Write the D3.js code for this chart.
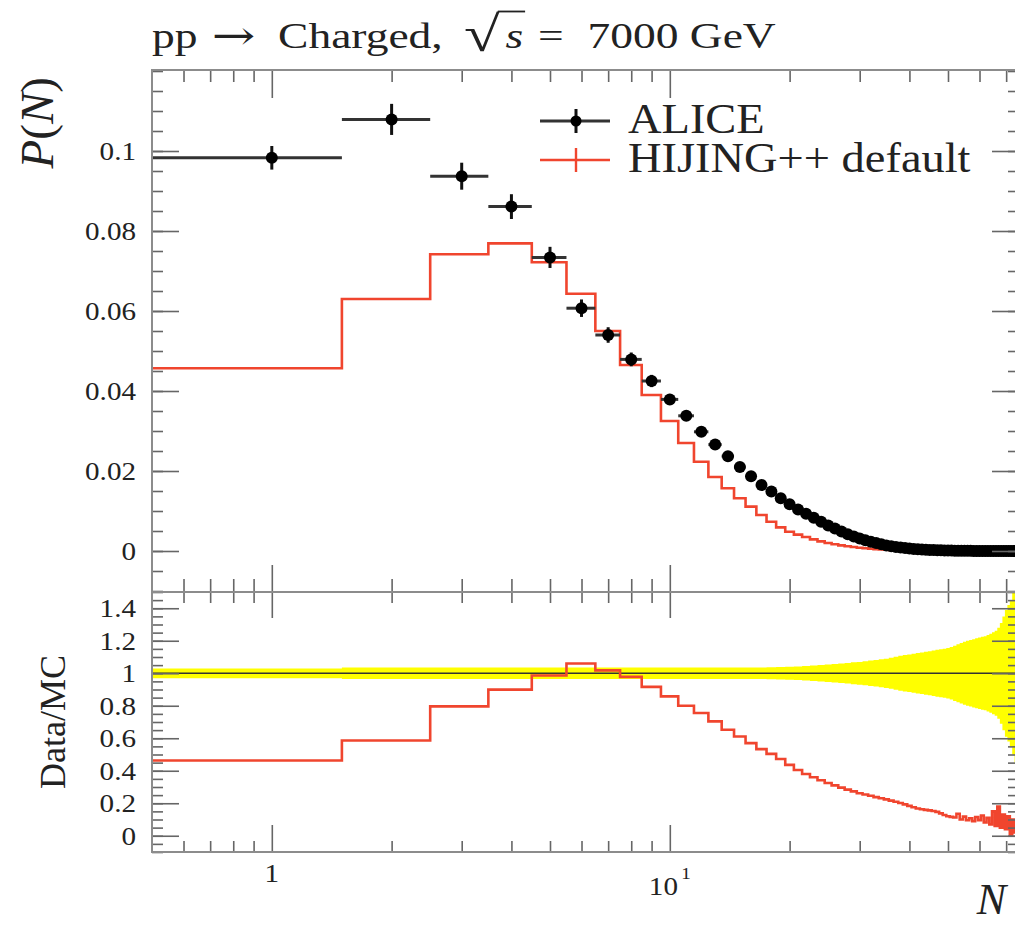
<!DOCTYPE html>
<html>
<head>
<meta charset="utf-8">
<script src="https://cdn.jsdelivr.net/npm/d3@7"></script>
<style>
  html, body { margin: 0; padding: 0; background: #fff; overflow: hidden; }
  svg { display: block; font-family: "Liberation Serif", "DejaVu Serif", serif; }
  svg text { font-family: "Liberation Serif", "DejaVu Serif", serif; }
</style>
</head>
<body>
<svg id="chart" width="1015" height="925"></svg>
<script>
// multiplicity bins (centred on integer N, width 1)
const nch = [1, 2, 3, 4, 5, 6, 7, 8, 9, 10, 11, 12, 13, 14, 15, 16, 17, 18, 19, 20,
  21, 22, 23, 24, 25, 26, 27, 28, 29, 30, 31, 32, 33, 34, 35, 36, 37, 38, 39, 40,
  41, 42, 43, 44, 45, 46, 47, 48, 49, 50, 51, 52, 53, 54, 55, 56, 57, 58, 59, 60,
  61, 62, 63, 64, 65, 66, 67, 68, 69, 70, 71, 72, 73, 74];

// ALICE data P(N)
const alice = [0.0983, 0.1079, 0.0937, 0.0861, 0.0734, 0.0607, 0.0540, 0.0479, 0.0425, 0.0379,
  0.0338, 0.0298, 0.0266, 0.0237, 0.0210, 0.0187, 0.0165, 0.0149, 0.0132, 0.0117,
  0.0104, 0.0093, 0.0083, 0.0073, 0.0064, 0.0056, 0.0049, 0.0042, 0.0036, 0.0031,
  0.0027, 0.0023, 0.0020, 0.0017, 0.0014, 0.0012, 0.0010, 0.00085, 0.00072, 0.00061,
  0.00052, 0.00044, 0.00037, 0.00031, 0.00026, 0.00022, 0.00019, 0.00016, 0.00013, 0.00011,
  0.000095, 0.00008, 0.000068, 0.000057, 0.000048, 0.00004, 0.000034, 0.000028, 0.000024, 0.00002,
  0.000017, 0.000014, 0.000012, 0.00001, 0.0000085, 0.000007, 0.000006, 0.000005, 0.0000042, 0.0000035,
  0.000003, 0.0000025, 0.000002, 0.0000017];

// relative uncertainty of the data (yellow band, error bars)
const aliceRelErr = [0.030, 0.036, 0.036, 0.036, 0.036, 0.036, 0.036, 0.036, 0.036, 0.036,
  0.036, 0.036, 0.036, 0.036, 0.036, 0.036, 0.036, 0.037, 0.038, 0.040,
  0.042, 0.045, 0.048, 0.051, 0.054, 0.057, 0.060, 0.063, 0.067, 0.070,
  0.074, 0.078, 0.082, 0.086, 0.090, 0.096, 0.102, 0.108, 0.112, 0.116,
  0.120, 0.124, 0.128, 0.132, 0.136, 0.140, 0.144, 0.148, 0.151, 0.155,
  0.162, 0.170, 0.178, 0.186, 0.194, 0.200, 0.205, 0.210, 0.215, 0.220,
  0.224, 0.228, 0.235, 0.243, 0.252, 0.262, 0.280, 0.310, 0.350, 0.390,
  0.420, 0.450, 0.500, 0.550];

// HIJING++ default P(N)
const hijing = [0.0457, 0.0630, 0.0742, 0.0769, 0.0722, 0.0643, 0.0550, 0.0465, 0.0390, 0.0325,
  0.0270, 0.0223, 0.0185, 0.0157, 0.0132, 0.0111, 0.0090, 0.0073, 0.0059, 0.0048,
  0.0041, 0.0035, 0.0029, 0.0024, 0.0020, 0.0017, 0.0014, 0.0012, 0.0010, 0.00082,
  0.00068, 0.00057, 0.00047, 0.00039, 0.00032, 0.00026, 0.00021, 0.00017, 0.00014, 0.00011,
  0.00009, 0.000074, 0.00006, 0.00005, 0.00004, 0.000033, 0.000028, 0.000022, 0.000017, 0.000013,
  0.000011, 0.000009, 0.0000092, 0.0000057, 0.0000057, 0.0000038, 0.0000037, 0.0000025, 0.0000028, 0.0000019,
  0.0000021, 0.0000011, 0.0000013, 0.0000007, 0.0000013, 0.0000004, 0.0000011, 0.0000003, 0.0000005, 0.0000001,
  0.0000004, 0, 0.0000002, 0.00000003];

// ratio panel (MC / data)
const ratio = [0.463, 0.586, 0.796, 0.899, 0.986, 1.060, 1.018, 0.978, 0.916, 0.858,
  0.800, 0.755, 0.704, 0.652, 0.611, 0.570, 0.533, 0.504, 0.472, 0.436,
  0.405, 0.380, 0.360, 0.342, 0.325, 0.310, 0.296, 0.284, 0.273, 0.262,
  0.254, 0.246, 0.238, 0.231, 0.224, 0.216, 0.209, 0.202, 0.193, 0.184,
  0.175, 0.168, 0.163, 0.159, 0.156, 0.152, 0.147, 0.138, 0.128, 0.120,
  0.116, 0.112, 0.135, 0.100, 0.118, 0.095, 0.108, 0.090, 0.115, 0.096,
  0.125, 0.082, 0.110, 0.070, 0.150, 0.060, 0.180, 0.050, 0.130, 0.040,
  0.120, 0.000, 0.100, 0.020];

// axis ticks
const xMajorTicks = [1, 10];
const xMinorTicks = [0.6, 0.7, 0.8, 0.9, 2, 3, 4, 5, 6, 7, 8, 9, 20, 30, 40, 50, 60, 70];
const xLabelBase = ["1", "10"];
const xLabelExp = ["", "1"];
const yTicksTop = [0, 0.02, 0.04, 0.06, 0.08, 0.1];
const yTickLabelsTop = ["0", "0.02", "0.04", "0.06", "0.08", "0.1"];
const yTicksRatio = [0, 0.2, 0.4, 0.6, 0.8, 1, 1.2, 1.4];
const yTickLabelsRatio = ["0", "0.2", "0.4", "0.6", "0.8", "1", "1.2", "1.4"];

const red = "#f0452e";
const frameCol = "#8c8c8c";
const tickCol = "#666";
const serif = '"Liberation Serif", "DejaVu Serif", serif';

const pLeft = 152, pRight = 1019, pTop = 70, pMid = 592, pBottom = 852;

const svg = d3.select("#chart");

const x = d3.scaleLog().domain([0.5, 75.4]).range([pLeft, pRight]);
const y = d3.scaleLinear().domain([-0.01025, 0.12025]).range([pMid, pTop]);
const yr = d3.scaleLinear().domain([-0.1, 1.5]).range([pBottom, pMid]);

const defs = svg.append("defs");
defs.append("clipPath").attr("id", "clipTop")
  .append("rect").attr("x", pLeft).attr("y", pTop).attr("width", pRight - pLeft).attr("height", pMid - pTop);
defs.append("clipPath").attr("id", "clipRatio")
  .append("rect").attr("x", pLeft).attr("y", pMid).attr("width", pRight - pLeft).attr("height", pBottom - pMid);

// bins -> step points
const steps = vals => nch.flatMap((n, i) => [[n - 0.5, vals[i]], [n + 0.5, vals[i]]]);

// ---------- ratio panel ----------
const gR = svg.append("g").attr("clip-path", "url(#clipRatio)");

gR.append("path")
  .datum(steps(aliceRelErr))
  .attr("fill", "#ffff00")
  .attr("d", d3.area().x(d => x(d[0])).y0(d => yr(1 - d[1])).y1(d => yr(1 + d[1])));

gR.append("line")
  .attr("x1", pLeft).attr("x2", pRight).attr("y1", yr(1)).attr("y2", yr(1))
  .attr("stroke", "#333").attr("stroke-width", 1.5);

gR.append("path")
  .datum(steps(ratio))
  .attr("fill", "none").attr("stroke", red).attr("stroke-width", 2.6)
  .attr("d", d3.line().x(d => x(d[0])).y(d => yr(d[1])));

// ---------- main panel ----------
const gT = svg.append("g").attr("clip-path", "url(#clipTop)");

gT.append("path")
  .datum(steps(hijing))
  .attr("fill", "none").attr("stroke", red).attr("stroke-width", 2.6)
  .attr("d", d3.line().x(d => x(d[0])).y(d => y(d[1])));

const pts = gT.selectAll(".pt").data(nch).join("g").attr("class", "pt");
pts.append("line")
  .attr("x1", n => x(n - 0.5)).attr("x2", n => x(n + 0.5))
  .attr("y1", (n, i) => y(alice[i])).attr("y2", (n, i) => y(alice[i]))
  .attr("stroke", "#333").attr("stroke-width", 3);
pts.append("line")
  .attr("x1", n => x(n)).attr("x2", n => x(n))
  .attr("y1", (n, i) => y(alice[i] * (1 + aliceRelErr[i])))
  .attr("y2", (n, i) => y(alice[i] * (1 - aliceRelErr[i])))
  .attr("stroke", "#111").attr("stroke-width", 3);
pts.append("circle")
  .attr("cx", n => x(n)).attr("cy", (n, i) => y(alice[i]))
  .attr("r", 6).attr("fill", "#000");

// ---------- axes / ticks ----------
function xTicks(yPos, axisFn, majorLen, minorLen) {
  const g = svg.append("g").attr("transform", `translate(0,${yPos})`);
  g.append("g").call(axisFn(x).tickValues(xMajorTicks).tickSize(majorLen).tickFormat(""));
  g.append("g").call(axisFn(x).tickValues(xMinorTicks).tickSize(minorLen).tickFormat(""));
  g.selectAll(".domain").remove();
  g.selectAll(".tick line").attr("stroke", tickCol).attr("stroke-width", 1.6);
}
xTicks(pTop, d3.axisBottom, 28, 12);
xTicks(pMid, d3.axisTop, 27, 13);
xTicks(pMid, d3.axisBottom, 26, 11);
xTicks(pBottom, d3.axisTop, 27, 11);

function yTicks(scale, major, labels, minor) {
  const gl = svg.append("g").attr("transform", `translate(${pLeft},0)`);
  gl.append("g").call(d3.axisLeft(scale).tickValues(minor).tickSize(-11).tickFormat(""));
  gl.append("g").call(d3.axisLeft(scale).tickValues(major).tickSize(-27).tickPadding(16)
    .tickFormat((d, i) => labels[i]));
  const gr = svg.append("g").attr("transform", `translate(${pRight},0)`);
  gr.append("g").call(d3.axisLeft(scale).tickValues(minor).tickSize(11).tickFormat(""));
  gr.append("g").call(d3.axisLeft(scale).tickValues(major).tickSize(27).tickFormat(""));
  [gl, gr].forEach(g => {
    g.selectAll(".domain").remove();
    g.selectAll("g").attr("font-family", null).attr("font-size", null);
    g.selectAll(".tick line").attr("stroke", tickCol).attr("stroke-width", 1.6);
  });
  gl.selectAll(".tick text")
    .attr("x", -16 / 1.12).attr("dy", null).attr("y", 8.5)
    .attr("transform", "scale(1.12,1)")
    .style("font-family", serif).style("font-size", "26px").attr("fill", "#222");
}
yTicks(y, yTicksTop, yTickLabelsTop, d3.range(-0.01, 0.1201, 0.005));
yTicks(yr, yTicksRatio, yTickLabelsRatio, d3.range(-0.1, 1.501, 0.05));

// frames
[[pTop, pMid], [pMid, pBottom]].forEach(([a, b]) => {
  svg.append("rect").attr("x", pLeft).attr("y", a).attr("width", pRight - pLeft).attr("height", b - a)
    .attr("fill", "none").attr("stroke", frameCol).attr("stroke-width", 2);
});

// x tick labels
xMajorTicks.forEach((v, i) => {
  const hasExp = xLabelExp[i] !== "";
  const t = svg.append("text")
    .attr("transform", `translate(${x(v)},${hasExp ? 895 : 882}) scale(1.12,1)`)
    .attr("text-anchor", "middle").attr("font-size", 26).attr("fill", "#222");
  t.append("tspan").text(xLabelBase[i]);
  if (hasExp) t.append("tspan").attr("font-size", 17).attr("dy", -16).attr("dx", 3).text(xLabelExp[i]);
});

// axis titles
const yl = svg.append("text")
  .attr("transform", "translate(53,77) rotate(-90)")
  .attr("text-anchor", "end").attr("font-size", 47).attr("fill", "#222");
yl.append("tspan").attr("font-style", "italic").text("P");
yl.append("tspan").text("(");
yl.append("tspan").attr("font-style", "italic").text("N");
yl.append("tspan").text(")");

svg.append("text")
  .attr("transform", "translate(65,722) rotate(-90)")
  .attr("text-anchor", "middle").attr("font-size", 36).attr("fill", "#222")
  .text("Data/MC");

svg.append("text")
  .attr("x", 1006).attr("y", 914).attr("text-anchor", "end")
  .attr("font-size", 44).attr("font-style", "italic").attr("fill", "#222")
  .text("N");

// title
const tg = svg.append("g").attr("transform", "translate(152,48) scale(1.3,1)")
  .attr("font-size", 35).attr("fill", "#222");
tg.append("text").attr("x", 0).text("pp");
tg.append("text").attr("x", 46).attr("y", 1).style("font-family", '"DejaVu Serif", serif')
  .attr("font-size", 40).text("→");
tg.append("text").attr("x", 97).text("Charged,");
tg.append("text").attr("x", 240).attr("y", 3).attr("font-size", 50).text("√");
tg.append("line").attr("x1", 266).attr("x2", 287).attr("y1", -36.5).attr("y2", -36.5)
  .attr("stroke", "#222").attr("stroke-width", 1.8);
tg.append("text").attr("x", 272).attr("font-style", "italic").text("s");
tg.append("text").attr("x", 297).text("=");
tg.append("text").attr("x", 335).text("7000 GeV");

// legend
const legend = [
  { label: "ALICE", y: 133, col: "#333" },
  { label: "HIJING++ default", y: 172, col: red }
];
legend.forEach((d, i) => {
  const cy = d.y - 12;
  svg.append("line").attr("x1", 540).attr("x2", 610).attr("y1", cy).attr("y2", cy)
    .attr("stroke", d.col).attr("stroke-width", i === 0 ? 3 : 2.4);
  svg.append("line").attr("x1", 576).attr("x2", 576).attr("y1", cy - 12).attr("y2", cy + 12)
    .attr("stroke", i === 0 ? "#111" : d.col).attr("stroke-width", i === 0 ? 3 : 2.4);
  if (i === 0) svg.append("circle").attr("cx", 576).attr("cy", cy).attr("r", 5.5).attr("fill", "#000");
  svg.append("text")
    .attr("transform", `translate(628,${d.y}) scale(1.08,1)`)
    .attr("font-size", 43).attr("fill", "#222").text(d.label);
});
</script>
</body>
</html>
